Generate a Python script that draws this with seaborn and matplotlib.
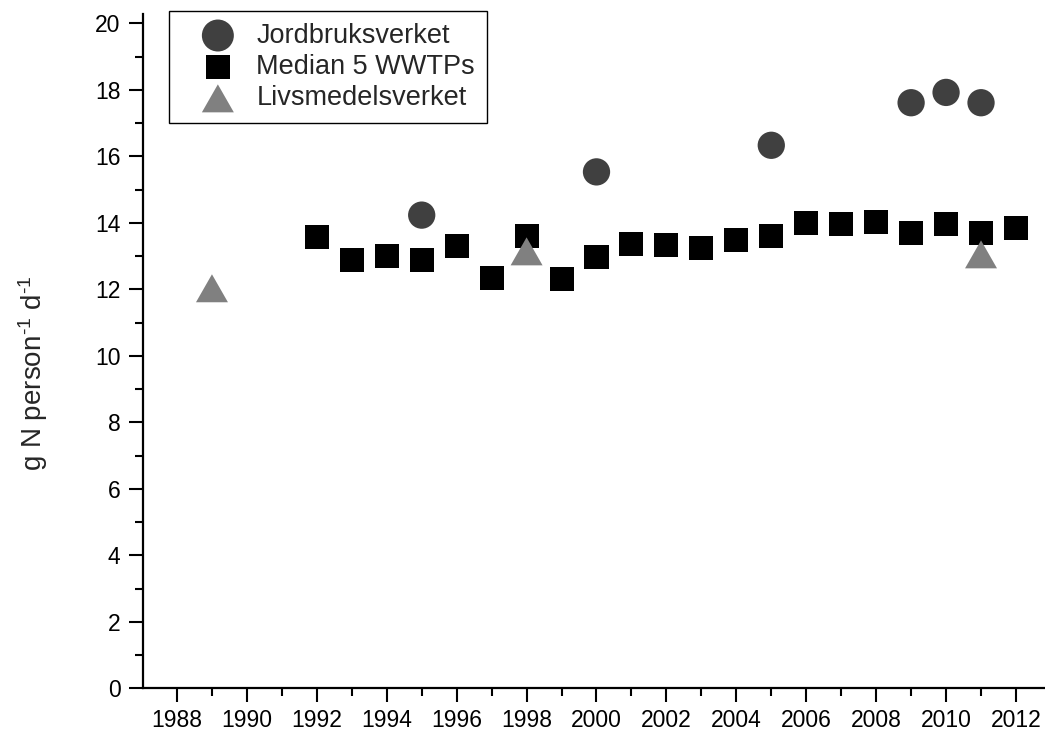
import matplotlib
matplotlib.use('Agg')
import matplotlib.pyplot as plt
import seaborn as sns
import pandas as pd
from matplotlib.ticker import MultipleLocator

# Data
jbv_years = [1995, 2000, 2005, 2009, 2010, 2011]
jbv_values = [14.23, 15.53, 16.33, 17.61, 17.92, 17.61]

wwtp_years = list(range(1992, 2013))
wwtp_values = [13.56, 12.88, 13.0, 12.88, 13.30, 12.33, 13.60, 12.32, 12.96, 13.35,
               13.32, 13.24, 13.47, 13.60, 13.98, 13.95, 14.02, 13.70, 13.95, 13.70, 13.85]

slv_years = [1989, 1998, 2011]
slv_values = [12.03, 13.14, 13.05]

labels = ['Jordbruksverket', 'Median 5 WWTPs', 'Livsmedelsverket']
x_ticks = list(range(1988, 2013, 2))
y_ticks = list(range(0, 21, 2))

sns.set_style('ticks')
plt.rcParams['font.family'] = ['Liberation Sans', 'DejaVu Sans']
plt.rcParams['mathtext.fontset'] = 'custom'
plt.rcParams['mathtext.rm'] = 'Liberation Sans'
plt.rcParams['mathtext.default'] = 'regular'

fig = plt.figure(figsize=(10.45, 7.32), dpi=100)
ax = fig.add_axes([0.1366, 0.0597, 1 - 0.1366, 0.9208])

jbv = pd.DataFrame({'year': jbv_years, 'value': jbv_values})
wwtp = pd.DataFrame({'year': wwtp_years, 'value': wwtp_values})
slv = pd.DataFrame({'year': slv_years, 'value': slv_values})

tri = [(0, 0.875), (-1, -0.875), (1, -0.875), (0, 0.875)]

sns.scatterplot(x='year', y='value', data=jbv, ax=ax, color='#404040', marker='o',
                s=386, linewidth=0, edgecolor='none', label=labels[0], zorder=3)
sns.scatterplot(x='year', y='value', data=wwtp, ax=ax, color='black', marker='s',
                s=299, linewidth=0, edgecolor='none', label=labels[1], zorder=2)
sns.scatterplot(x='year', y='value', data=slv, ax=ax, color='#808080', marker=tri,
                s=530, linewidth=0, edgecolor='none', label=labels[2], zorder=4)

ax.set_xlim(1987.02, 2012.83)
ax.set_ylim(0, 20.27)
ax.set_xticks(x_ticks)
ax.set_yticks(y_ticks)
ax.xaxis.set_minor_locator(MultipleLocator(1))
ax.yaxis.set_minor_locator(MultipleLocator(1))

sns.despine(ax=ax, top=True, right=True)
for sp in ['left', 'bottom']:
    ax.spines[sp].set_linewidth(1.6)
    ax.spines[sp].set_color('black')

ax.tick_params(which='major', direction='out', length=10, width=1.5, colors='black',
               labelsize=16.5, pad=5)
ax.tick_params(which='minor', direction='out', length=5.8, width=1.5, colors='black')
ax.tick_params(axis='y', which='major', pad=6)

ax.set_xlabel('')
ax.set_ylabel(r'g N person$^{\text{-}1}$ d$^{\text{-}1}$', fontsize=20)
ax.yaxis.set_label_coords(-0.103, 0.468)

leg = ax.legend(loc='upper left', bbox_to_anchor=(0.1617, 0.985), bbox_transform=fig.transFigure,
                borderaxespad=0, fontsize=19.5, frameon=True, fancybox=False, framealpha=1,
                edgecolor='black', borderpad=0.43, handlelength=2.75, handletextpad=0.05,
                labelspacing=0.2, scatterpoints=1)
leg.get_frame().set_linewidth(1.0)
leg.legend_handles[0].set_sizes([530])

fig.savefig('out.png', dpi=100)
